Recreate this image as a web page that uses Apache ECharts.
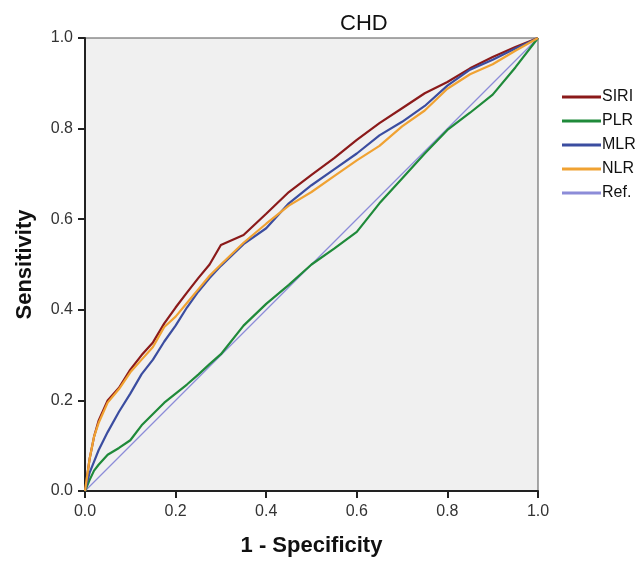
<!DOCTYPE html>
<html><head><meta charset="utf-8">
<script src="https://cdn.jsdelivr.net/npm/echarts@6/dist/echarts.min.js"></script>
<style>html,body{margin:0;padding:0;background:#fff}#c{width:638px;height:564px}</style>
</head><body><div id="c"></div>
<script>
const fpr  = [0, 0.01, 0.02, 0.03, 0.05, 0.075, 0.1, 0.125, 0.15, 0.175, 0.2, 0.225, 0.25, 0.275, 0.3, 0.35, 0.4, 0.45, 0.5, 0.55, 0.6, 0.65, 0.7, 0.75, 0.8, 0.85, 0.9, 0.95, 1.0];
const siri = [0, 0.07, 0.12, 0.155, 0.2, 0.228, 0.268, 0.3, 0.328, 0.37, 0.405, 0.438, 0.47, 0.5, 0.543, 0.565, 0.612, 0.66, 0.698, 0.735, 0.775, 0.812, 0.845, 0.878, 0.903, 0.933, 0.958, 0.98, 1.0];
const plr  = [0, 0.024, 0.045, 0.058, 0.08, 0.095, 0.112, 0.145, 0.17, 0.195, 0.215, 0.235, 0.257, 0.28, 0.302, 0.365, 0.413, 0.455, 0.5, 0.535, 0.572, 0.635, 0.69, 0.745, 0.797, 0.835, 0.875, 0.935, 1.0];
const mlr  = [0, 0.04, 0.065, 0.09, 0.13, 0.175, 0.215, 0.258, 0.29, 0.33, 0.365, 0.405, 0.44, 0.47, 0.497, 0.545, 0.58, 0.635, 0.675, 0.71, 0.745, 0.785, 0.815, 0.85, 0.895, 0.93, 0.952, 0.977, 1.0];
const nlr  = [0, 0.07, 0.12, 0.15, 0.195, 0.225, 0.262, 0.29, 0.318, 0.362, 0.385, 0.415, 0.445, 0.475, 0.5, 0.548, 0.59, 0.63, 0.66, 0.695, 0.73, 0.762, 0.805, 0.84, 0.888, 0.92, 0.942, 0.972, 1.0];
const refX = [0, 1];
const refY = [0, 1];
const names = ['SIRI', 'PLR', 'MLR', 'NLR', 'Ref.'];
const colors = ['#8b1a1a', '#1f8a3a', '#3b4da0', '#f0a232', '#8c8cd8'];

const pair = (xs, ys) => xs.map((x, i) => [x, ys[i]]);
const seriesData = [pair(fpr, siri), pair(fpr, plr), pair(fpr, mlr), pair(fpr, nlr), pair(refX, refY)];

const font = '"Liberation Sans", Arial, sans-serif';
const chart = echarts.init(document.getElementById('c'), null, {renderer: 'canvas'});
chart.setOption({
  animation: false,
  backgroundColor: '#fff',
  title: {text: 'CHD', left: 335, top: 8, textStyle: {fontFamily: font, fontSize: 22, fontWeight: 'normal', color: '#111'}},
  legend: {
    orient: 'vertical', left: 557, top: 84, itemWidth: 39, itemHeight: 3, itemGap: 8,
    icon: 'rect', data: names,
    textStyle: {fontFamily: font, fontSize: 16, color: '#111', padding: [0, 0, 0, -4]}
  },
  grid: {left: 85, right: 100, top: 38, bottom: 73, show: true, backgroundColor: '#f0f0f0', borderColor: '#555', borderWidth: 1},
  xAxis: {
    type: 'value', min: 0, max: 1, interval: 0.2,
    name: '1 - Specificity', nameLocation: 'middle', nameGap: 44,
    nameTextStyle: {fontFamily: font, fontSize: 22, fontWeight: 'bold', color: '#111'},
    axisLine: {show: true, lineStyle: {color: '#222', width: 2}},
    axisTick: {show: true, inside: false, length: 7, lineStyle: {color: '#222', width: 2}},
    axisLabel: {fontFamily: font, fontSize: 16, color: '#333', margin: 13, formatter: v => v.toFixed(1)},
    splitLine: {show: false}
  },
  yAxis: {
    type: 'value', min: 0, max: 1, interval: 0.2,
    name: 'Sensitivity', nameLocation: 'middle', nameGap: 49,
    nameTextStyle: {fontFamily: font, fontSize: 22, fontWeight: 'bold', color: '#111'},
    axisLine: {show: true, lineStyle: {color: '#222', width: 2}},
    axisTick: {show: true, inside: false, length: 7, lineStyle: {color: '#222', width: 2}},
    axisLabel: {fontFamily: font, fontSize: 16, color: '#333', margin: 12, formatter: v => v.toFixed(1)},
    splitLine: {show: false}
  },
  series: names.map((n, i) => ({
    name: n, type: 'line', data: seriesData[i], showSymbol: false, symbol: 'none',
    lineStyle: {color: colors[i], width: i === 4 ? 1.2 : 2.2}, itemStyle: {color: colors[i]},
    z: i === 4 ? 1 : 2
  }))
});
</script></body></html>
